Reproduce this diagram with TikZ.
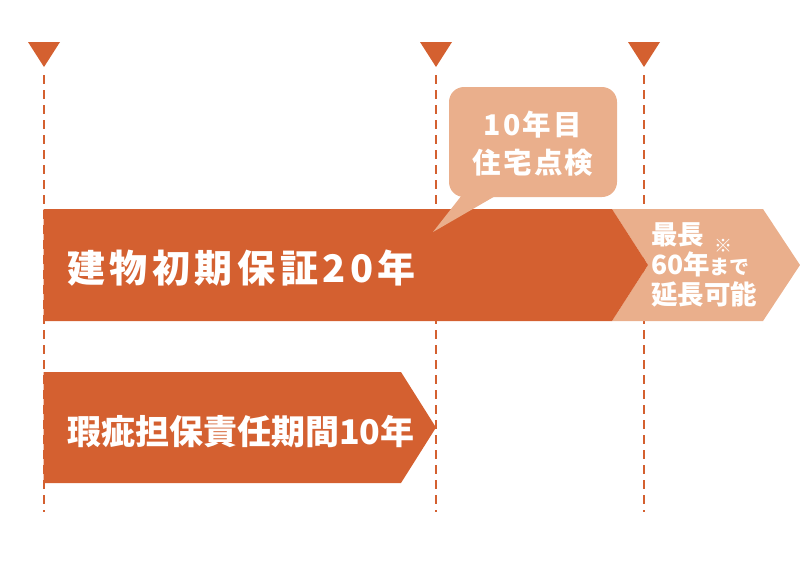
\documentclass[tikz,border=0pt]{standalone}
\usepackage{fontspec}
\setmainfont{Noto Sans CJK JP}
\definecolor{darkor}{HTML}{D46030}
\definecolor{lightor}{HTML}{EAAF8C}
\begin{document}
\begin{tikzpicture}[x=1pt,y=-1pt,
  guide/.style={darkor,line width=1.6pt,dash pattern=on 9pt off 6pt},
  mark tri/.style={fill=darkor},
  lbl/.style={text=white,inner sep=0pt,font=\bfseries}]
\useasboundingbox (0,0) rectangle (800,573);
% guides
\foreach \x/\n in {44/a,436/b,644/c}{
  \coordinate (top\n) at (\x,75);
  \coordinate (bot\n) at (\x,512);
  \draw[guide] (top\n) -- (bot\n);
  \fill[mark tri] (\x-16,42) -- (\x+16,42) -- (\x,67) -- cycle;
}
% extension arrow
\fill[lightor] (612,209) -- (763,209) -- (800,265) -- (763,321) -- (612,321) -- (648,265) -- cycle;
% bar 1
\fill[darkor] (43.5,209) -- (612,209) -- (648,265) -- (612,321) -- (43.5,321) -- cycle;
% bar 2
\fill[darkor] (43.5,372) -- (401,372) -- (436,427.5) -- (401,483) -- (43.5,483) -- cycle;
% callout
\fill[lightor, rounded corners=15pt] (449,87) rectangle (617,197);
\fill[lightor] (462,195) -- (433,232) -- (497,195) -- cycle;
% texts
\node[lbl,anchor=west,font=\bfseries\fontsize{38}{38}\selectfont\addfontfeature{LetterSpace=12}] (t1) at (67,268) {建物初期保証20年};
\node[lbl,anchor=west,font=\bfseries\fontsize{34}{34}\selectfont] (t2) at (67,432) {瑕疵担保責任期間10年};
\node[lbl,align=center,font=\bfseries\fontsize{28.5}{38}\selectfont\addfontfeature{LetterSpace=8}] (c) at (533,144) {10年目\\住宅点検};
\node[lbl,align=left,anchor=west,font=\bfseries\fontsize{26.5}{30}\selectfont] (r) at (651,265) {最長\\60年{\fontsize{20}{20}\selectfont まで}\\延長可能};
\node[lbl,font=\bfseries\fontsize{18}{18}\selectfont] (note) at (723,246) {※};
\end{tikzpicture}
\end{document}
